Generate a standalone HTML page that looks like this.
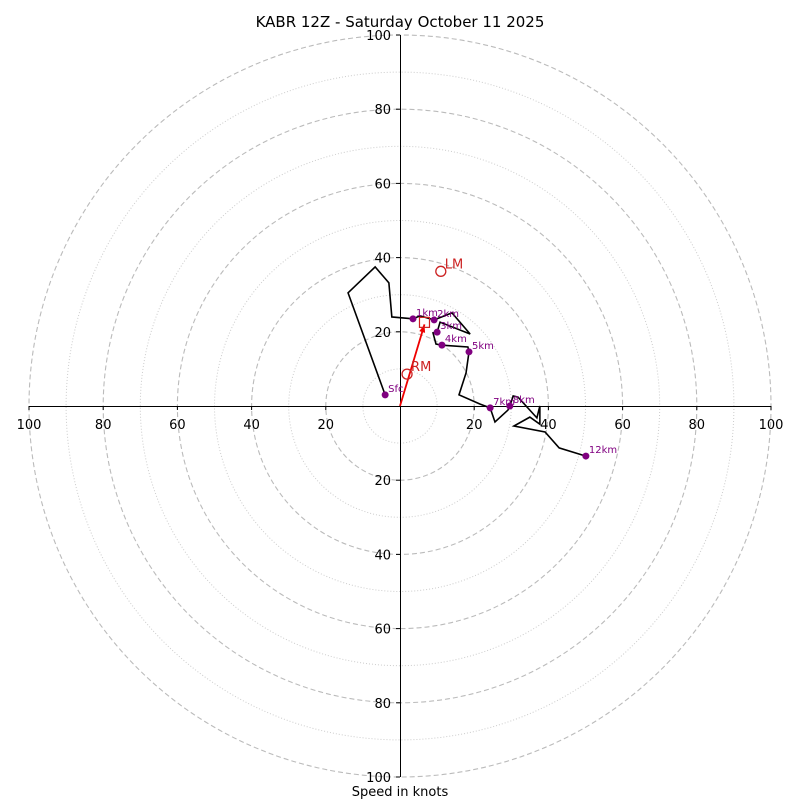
<!DOCTYPE html>
<html><head><meta charset="utf-8"><style>
body{margin:0;background:#fff;font-family:"Liberation Sans","DejaVu Sans",sans-serif}
</style></head><body>
<svg id="chart" width="800" height="800" xmlns="http://www.w3.org/2000/svg" font-family="DejaVu Sans, Liberation Sans, sans-serif">
<rect width="800" height="800" fill="#fff"/>
<text x="400" y="27" text-anchor="middle" font-size="15">KABR 12Z - Saturday October 11 2025</text>
<text x="400" y="796" text-anchor="middle" font-size="13">Speed in knots</text>
<g id="grid"></g><g id="axes"></g><g id="trace"></g><g id="marks"></g>
</svg>
<script>
const ringSpeeds=[10,20,30,40,50,60,70,80,90,100];
const tickLabels=[20,40,60,80,100];
const traceU=[-4.0,-14.0,-6.7,-3.0,-2.2,3.5,5.4,9.2,14.0,18.9,10.8,10.0,8.9,9.7,11.3,18.3,18.6,17.8,15.9,21.6,24.3,25.6,29.1,29.6,30.5,31.8,36.9,37.7,37.7,35.0,30.7,39.1,42.9,50.1];
const traceV=[3.0,30.5,37.5,33.2,24.0,23.5,24.3,23.2,25.1,19.4,22.6,19.9,19.7,16.7,16.4,15.9,14.6,8.9,3.0,0.5,-0.5,-4.3,-1.1,0,2.7,2.4,-3.2,0,-4.9,-3.0,-5.4,-7.0,-11.3,-13.5];
const levelNames=["Sfc","1km","2km","3km","4km","5km","7km","8km","12km"];
const levelU=[-4.0,3.5,9.2,10.0,11.3,18.6,24.3,29.6,50.1];
const levelV=[3.0,23.5,23.2,19.9,16.4,14.6,-0.5,0,-13.5];
const stormNames=["LM","RM"];
const stormU=[11.0,1.9];
const stormV=[36.3,8.6];
const meanWindU=[6.6];
const meanWindV=[22.0];

const CX=400,CY=406,S=3.71;
const sx=u=>CX+u*S, sy=v=>CY-v*S;
const NS="http://www.w3.org/2000/svg";
function mk(p,tag,attrs){const e=document.createElementNS(NS,tag);for(const k in attrs)e.setAttribute(k,attrs[k]);p.appendChild(e);return e;}
const grid=document.getElementById('grid'),axes=document.getElementById('axes'),trace=document.getElementById('trace'),marks=document.getElementById('marks');
ringSpeeds.forEach(r=>{
  const major=r%20===0;
  const c=mk(grid,'circle',{cx:CX,cy:CY,r:r*S,fill:'none',stroke:major?'#bbb':'#ccc','stroke-width':major?1.1:1,'stroke-dasharray':major?'5,3':'1,2'});
  
  
});
let l=mk(axes,'line',{x1:sx(-100),y1:CY+0.5,x2:sx(100),y2:CY+0.5,stroke:'#000','stroke-width':1});


l=mk(axes,'line',{x1:CX+0.5,y1:sy(100),x2:CX+0.5,y2:sy(-100),stroke:'#000','stroke-width':1});


tickLabels.forEach(t=>{
  [[sx(t),CY+23],[sx(-t),CY+23]].forEach(([x,y])=>{
    const tk=mk(axes,'line',{x1:x,y1:CY,x2:x,y2:CY+4,stroke:'#000'});
    
    
    const tx=mk(axes,'text',{x:x,y:y,'text-anchor':'middle','font-size':13});
    tx.textContent=t;
    
    
  });
  [sy(t),sy(-t)].forEach(y=>{
    const tk=mk(axes,'line',{x1:CX-4,y1:y,x2:CX,y2:y,stroke:'#000'});
    
    
    const tx=mk(axes,'text',{x:CX-9,y:y+5,'text-anchor':'end','font-size':13});
    tx.textContent=t;
    
    
  });
});
let pts=traceU.map((u,i)=>sx(u)+','+sy(traceV[i])).join(' ');
const pl=mk(trace,'polyline',{points:pts,fill:'none',stroke:'#000','stroke-width':1.6,'stroke-linejoin':'miter'});


const ax=sx(meanWindU[0]),ay=sy(meanWindV[0]);
const ar=mk(marks,'line',{x1:CX,y1:CY,x2:ax,y2:ay,stroke:'#e00','stroke-width':1.8});


const ang=Math.atan2(ay-CY,ax-CX);
const hp=[[ax,ay],[ax-8*Math.cos(ang)+3*Math.sin(ang),ay-8*Math.sin(ang)-3*Math.cos(ang)],[ax-8*Math.cos(ang)-3*Math.sin(ang),ay-8*Math.sin(ang)+3*Math.cos(ang)]];
const hd=mk(marks,'polygon',{points:hp.map(p=>p.join(',')).join(' '),fill:'#e00'});


const sq=mk(marks,'rect',{x:ax-5,y:ay-7,width:10,height:10,fill:'none',stroke:'#c22','stroke-width':1.2});


stormNames.forEach((n,i)=>{
  const x=sx(stormU[i]),y=sy(stormV[i]);
  const c=mk(marks,'circle',{cx:x,cy:y,r:5,fill:'none',stroke:'#c22','stroke-width':1.3});
  
  
  const t=mk(marks,'text',{x:x+4,y:y-3,'font-size':13,fill:'#c22'});
  t.textContent=n;
  
  
});
levelNames.forEach((n,i)=>{
  const x=sx(levelU[i]),y=sy(levelV[i]);
  const c=mk(marks,'circle',{cx:x,cy:y,r:3.5,fill:'#800080'});
  
  
  const t=mk(marks,'text',{x:x+3,y:y-3,'font-size':10,fill:'#800080'});
  t.textContent=n;
  
  
});
</script>
</body></html>
